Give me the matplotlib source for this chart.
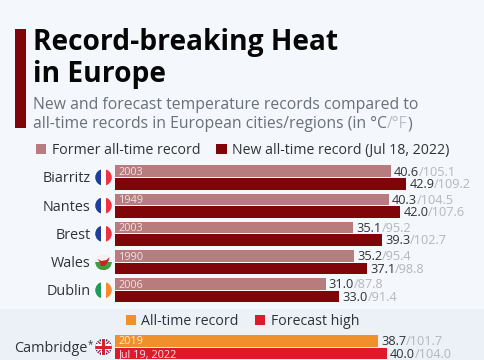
import matplotlib
matplotlib.use('Agg')
import matplotlib.pyplot as plt
from matplotlib.patches import Circle, Rectangle, Polygon

plt.rcParams['font.family'] = ['Open Sans', 'DejaVu Sans']

CITIES = ['Biarritz', 'Nantes', 'Brest', 'Wales', 'Dublin']
FORMER_C = [40.6, 40.3, 35.1, 35.2, 31.0]
FORMER_F = ['105.1', '104.5', '95.2', '95.4', '87.8']
FORMER_YEAR = ['2003', '1949', '2003', '1990', '2006']
NEW_C = [42.9, 42.0, 39.3, 37.1, 33.0]
NEW_F = ['109.2', '107.6', '102.7', '98.8', '91.4']
FLAGS = ['fr', 'fr', 'fr', 'wales', 'ie']

CAMBRIDGE_RECORD_C = 38.7
CAMBRIDGE_RECORD_F = '101.7'
CAMBRIDGE_FORECAST_C = 40.0
CAMBRIDGE_FORECAST_F = '104.0'

BG = '#f4f7fb'
BAND = '#ecf0f7'
DARK = '#7f0508'
LIGHT = '#b87c7e'
ORANGE = '#f0902a'
RED = '#dc1a2a'
TXT = '#2f3336'
GREY = '#b4b8bd'

W, H = 485, 360
X0 = 115.5
PX_PER_DEG = 6.78
BAR_H = 11.6

fig = plt.figure(figsize=(W / 100, H / 100), dpi=100, facecolor=BG)

# pixel coordinate layer for the band behind the bars
bg = fig.add_axes([0, 0, 1, 1])
bg.set_xlim(0, W)
bg.set_ylim(H, 0)
bg.axis('off')
bg.add_patch(Rectangle((0, 309), W, 51, fc=BAND, ec='none'))

# bars: x in degrees, y in pixels
ax = fig.add_axes([X0 / W, 0, 1 - X0 / W, 1])
ax.set_xlim(0, (W - X0) / PX_PER_DEG)
ax.set_ylim(H, 0)
ax.axis('off')

# text, legend and flags on top
top = fig.add_axes([0, 0, 1, 1])
top.set_xlim(0, W)
top.set_ylim(H, 0)
top.axis('off')


def flag(cx, cy, kind, r=8.3):
    top.add_patch(Circle((cx, cy), r + 0.6, fc='white', ec='none', zorder=2))
    clip = Circle((cx, cy), r, transform=top.transData)

    def rect(x, y, w, h, c, z=3):
        p = Rectangle((x, y), w, h, fc=c, ec='none', zorder=z)
        top.add_patch(p)
        p.set_clip_path(clip)

    l = cx - r
    t = cy - r
    d = 2 * r
    if kind == 'fr':
        rect(l, t, d / 3, d, '#1f3f9c')
        rect(l + d / 3, t, d / 3, d, '#ffffff')
        rect(l + 2 * d / 3, t, d / 3, d, '#ee3340')
    elif kind == 'ie':
        rect(l, t, d / 3, d, '#1f9a5a')
        rect(l + d / 3, t, d / 3, d, '#ffffff')
        rect(l + 2 * d / 3, t, d / 3, d, '#f58a32')
    elif kind == 'wales':
        rect(l, t, d, d / 2, '#f2f2f2')
        rect(l, cy, d, d / 2, '#3f9f3f')
        p = Polygon([(cx - 6, cy - 3), (cx - 2, cy - 1), (cx + 3, cy - 2), (cx + 6, cy - 5),
                     (cx + 5, cy - 1), (cx + 3, cy + 2), (cx + 1, cy + 4), (cx - 3, cy + 4),
                     (cx - 3, cy + 1)], closed=True, fc='#cf2027', ec='none', zorder=4)
        top.add_patch(p)
    else:
        rect(l, t, d, d, '#24306e')
        for a in [-1, 1]:
            top.plot([cx - a * r, cx + a * r], [cy - r, cy + r], color='white', lw=2.6,
                     zorder=4, clip_path=clip, solid_capstyle='butt')
            top.plot([cx - a * r, cx + a * r], [cy - r, cy + r], color='#d8202f', lw=1,
                     zorder=5, clip_path=clip, solid_capstyle='butt')
        rect(cx - 2.6, t, 5.2, d, 'white', 6)
        rect(l, cy - 2.6, d, 5.2, 'white', 6)
        rect(cx - 1.5, t, 3, d, '#d8202f', 7)
        rect(l, cy - 1.5, d, 3, '#d8202f', 7)


def chain(x, y, parts, fontsize):
    # text pieces in different colours, one after the other
    for s, c in parts:
        a = top.text(x, y, s, fontsize=fontsize, color=c, va='baseline', ha='left')
        fig.canvas.draw()
        bb = a.get_window_extent()
        x = top.transData.inverted().transform((bb.x1, 0))[0]


def value_label(c, f, y):
    x = X0 + c * PX_PER_DEG + 3
    chain(x, y, [(f'{c:.1f}', TXT), ('/' + f, GREY)], 9.2)


# title block
top.add_patch(Rectangle((14.7, 29.3), 11, 99, fc=DARK, ec='none'))
top.text(33, 50, 'Record-breaking Heat', fontsize=20.25, fontweight='bold', color='#060606', va='baseline')
top.text(33, 81.7, 'in Europe', fontsize=20.25, fontweight='bold', color='#060606', va='baseline')
top.text(33, 109.3, 'New and forecast temperature records compared to', fontsize=11.35, color='#6b7076', va='baseline')
chain(33, 128.3, [('all-time records in European cities/regions (in °C', '#6b7076'),
                  ('/°F', '#bcc0c6'), (')', '#6b7076')], 11.35)

# legends
top.add_patch(Rectangle((35.7, 144), 10.4, 10.2, fc=LIGHT, ec='none'))
top.text(52, 154, 'Former all-time record', fontsize=10.2, color=TXT, va='baseline')
top.add_patch(Rectangle((216.3, 144), 10.4, 10.2, fc=DARK, ec='none'))
top.text(232, 154, 'New all-time record (Jul 18, 2022)', fontsize=10.2, color=TXT, va='baseline')
top.add_patch(Rectangle((126, 315), 10.4, 10.2, fc=ORANGE, ec='none'))
top.text(141.5, 325, 'All-time record', fontsize=10.2, color=TXT, va='baseline')
top.add_patch(Rectangle((255, 315), 10.4, 10.2, fc=RED, ec='none'))
top.text(271, 325, 'Forecast high', fontsize=10.2, color=TXT, va='baseline')

# city rows
for i, city in enumerate(CITIES):
    y1 = 171.2 + i * 28.2
    y2 = y1 + 12.6
    ax.barh(y1, FORMER_C[i], height=BAR_H, color=LIGHT)
    ax.barh(y2, NEW_C[i], height=BAR_H, color=DARK)
    top.text(X0 + 3.5, y1 + 3.7, FORMER_YEAR[i], fontsize=7.8, color='#f0e2e2', va='baseline')
    value_label(FORMER_C[i], FORMER_F[i], y1 + 4.3)
    value_label(NEW_C[i], NEW_F[i], y2 + 4.3)
    top.text(90.5, y1 + 11.3, city, fontsize=10.4, color=TXT, va='baseline', ha='right')
    flag(103.5, y1 + 6.2, FLAGS[i])

# Cambridge row
y1 = 340.8
y2 = 353.4
ax.barh(y1, CAMBRIDGE_RECORD_C, height=BAR_H, color=ORANGE)
ax.barh(y2, CAMBRIDGE_FORECAST_C, height=BAR_H, color=RED)
top.text(X0 + 3.5, y1 + 3.7, '2019', fontsize=7.8, color='#fdeedd', va='baseline')
top.text(X0 + 3.5, y2 + 3.5, 'Jul 19, 2022', fontsize=7.8, color='#fbe0e2', va='baseline')
value_label(CAMBRIDGE_RECORD_C, CAMBRIDGE_RECORD_F, y1 + 4.3)
value_label(CAMBRIDGE_FORECAST_C, CAMBRIDGE_FORECAST_F, y2 + 4.3)
top.text(87.5, 352, 'Cambridge', fontsize=10.4, color=TXT, va='baseline', ha='right')
top.text(87.5, 347.2, '*', fontsize=7, color=TXT, va='baseline', ha='left')
flag(103.5, 347, 'uk')

fig.savefig('out.png', dpi=100, facecolor=BG)
